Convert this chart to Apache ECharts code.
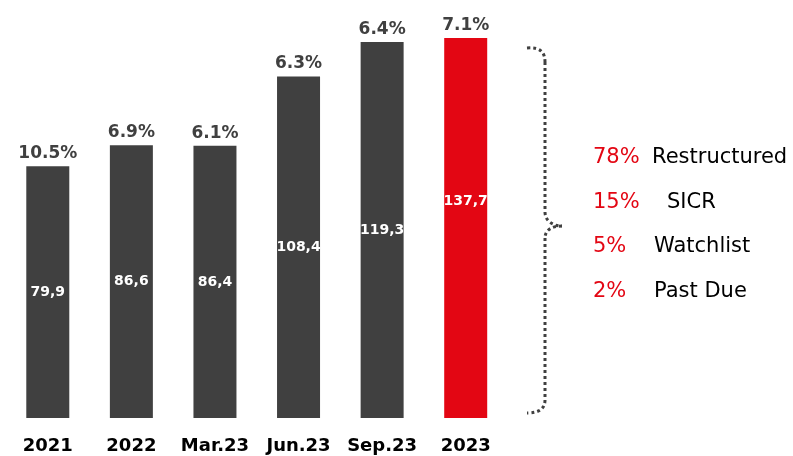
<!DOCTYPE html>
<html>
<head>
<meta charset="utf-8">
<script src="https://cdn.jsdelivr.net/npm/echarts@6/dist/echarts.min.js"></script>
<style>
    html, body { margin: 0; padding: 0; background: #fff; }
    #chart { width: 793px; height: 456px; }
</style>
</head>
<body>
<div id="chart"></div>
<script>
var categories = ['2021', '2022', 'Mar.23', 'Jun.23', 'Sep.23', '2023'];
var values = [79.9, 86.6, 86.4, 108.4, 119.3, 137.7];
var pctLabels = ['10.5%', '6.9%', '6.1%', '6.3%', '6.4%', '7.1%'];
var sharePct = ['78%', '15%', '5%', '2%'];
var shareNames = ['Restructured', 'SICR', 'Watchlist', 'Past Due'];

var dark = '#404040';
var red = '#e30613';
var font = 'DejaVu Sans';

var myChart = echarts.init(document.getElementById('chart'));

// dotted curly brace
var braceStyle = { fill: null, stroke: dark, lineWidth: 3, lineDash: [3, 3] };
var graphics = [
    { type: 'bezierCurve', silent: true, style: braceStyle,
      shape: { x1: 527, y1: 48, cpx1: 540, cpy1: 47, cpx2: 545, cpy2: 52, x2: 545, y2: 62 } },
    { type: 'line', silent: true, style: braceStyle,
      shape: { x1: 545, y1: 62, x2: 545, y2: 212 } },
    { type: 'bezierCurve', silent: true, style: braceStyle,
      shape: { x1: 545, y1: 212, cpx1: 545, cpy1: 220, cpx2: 552, cpy2: 226, x2: 562, y2: 226 } },
    { type: 'bezierCurve', silent: true, style: braceStyle,
      shape: { x1: 562, y1: 226, cpx1: 552, cpy1: 226, cpx2: 545, cpy2: 230, x2: 545, y2: 238 } },
    { type: 'line', silent: true, style: braceStyle,
      shape: { x1: 545, y1: 238, x2: 545, y2: 400 } },
    { type: 'bezierCurve', silent: true, style: braceStyle,
      shape: { x1: 545, y1: 400, cpx1: 545, cpy1: 408, cpx2: 540, cpy2: 413, x2: 527, y2: 413 } }
];

// right-hand breakdown text
var nameX = [652, 667, 654, 654];
for (var i = 0; i < sharePct.length; i++) {
    var y = 158 + i * 44.5;
    graphics.push({
        type: 'text', x: 593, y: y, silent: true,
        style: { text: sharePct[i], fill: red, font: '21px "' + font + '"', verticalAlign: 'middle' }
    });
    graphics.push({
        type: 'text', x: nameX[i], y: y, silent: true,
        style: { text: shareNames[i], fill: '#000', font: '21px "' + font + '"', verticalAlign: 'middle' }
    });
}

var option = {
    animation: false,
    grid: {
        left: 6,
        right: 285.5,
        top: 38,
        bottom: 38,
        containLabel: false
    },
    xAxis: {
        type: 'category',
        data: categories,
        axisLine: { show: false },
        axisTick: { show: false },
        axisLabel: {
            interval: 0,
            color: '#000',
            fontFamily: font,
            fontWeight: 'bold',
            fontSize: 18,
            margin: 19
        }
    },
    yAxis: {
        type: 'value',
        min: 0,
        max: 120.6,
        show: false
    },
    series: [{
        type: 'bar',
        barWidth: 43,
        clip: true,
        data: values.map(function (v, i) {
            return { value: v, itemStyle: { color: i === values.length - 1 ? red : dark } };
        }),
        label: {
            show: true,
            position: 'top',
            distance: 4,
            color: dark,
            fontFamily: font,
            fontWeight: 'bold',
            fontSize: 17,
            formatter: function (p) {
                return pctLabels[p.dataIndex];
            }
        }
    }, {
        // invisible twin, not clipped, carries the value labels
        type: 'bar',
        barWidth: 43,
        barGap: '-100%',
        clip: false,
        silent: true,
        z: 3,
        data: values,
        itemStyle: { color: 'rgba(0,0,0,0)' },
        label: {
            show: true,
            position: 'inside',
            color: '#fff',
            fontFamily: font,
            fontWeight: 'bold',
            fontSize: 14,
            formatter: function (p) {
                return String(p.value).replace('.', ',');
            }
        }
    }],
    graphic: graphics
};
myChart.setOption(option);
</script>
</body>
</html>
